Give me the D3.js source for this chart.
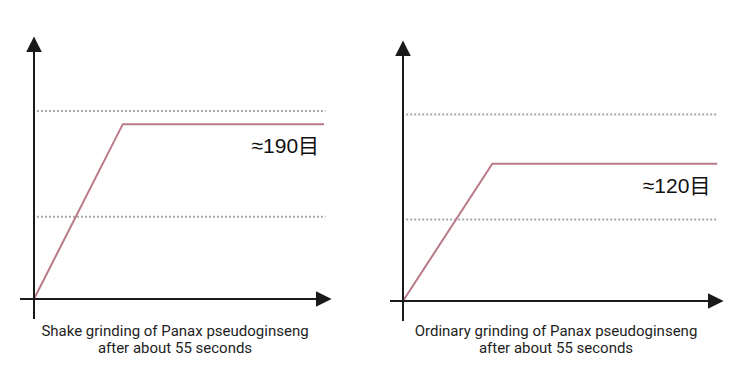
<!DOCTYPE html>
<html lang="en">
<head>
  <meta charset="UTF-8">
  <title>Panax pseudoginseng grinding</title>
  <script src="https://d3js.org/d3.v7.min.js"></script>
  <style>
    body {
      margin: 0;
      background: #fff;
    }

    svg {
      display: block;
    }

    .caption {
      font-family: Roboto, "Noto Sans", sans-serif;
      font-size: 15px;
      fill: #1e1e1e;
    }

    .mesh {
      font-family: "Liberation Sans", "Noto Sans CJK SC", sans-serif;
      font-size: 21px;
      fill: #111;
    }
  </style>
</head>
<body>
  <svg id="chart"></svg>
  <script>
    // Captions under each panel
    const captions = [
      ["Shake grinding of Panax pseudoginseng", "after about 55 seconds"],
      ["Ordinary grinding of Panax pseudoginseng", "after about 55 seconds"]
    ];

    // Schematic curve: time (0-100) vs fineness (0-100)
    const curveX = [
      [0, 30, 98],
      [0, 28, 98.5]
    ];
    const curveY = [
      [0, 67, 67],
      [0, 53, 53]
    ];

    // Dotted reference levels
    const gridLevels = [31.5, 72];

    const meshLabels = ["≈190目", "≈120目"];

    const width = 752;
    const height = 387;

    // Panel frames (origin and axis tips)
    const frames = [
      { x0: 34, x1: 330, y0: 299, y1: 38, xStart: 20, yEnd: 319 },
      { x0: 403, x1: 722, y0: 301, y1: 42, xStart: 390, yEnd: 321 }
    ];

    const svg = d3.select("#chart")
      .attr("width", width)
      .attr("height", height);

    const defs = svg.append("defs");
    defs.append("marker")
      .attr("id", "arrow")
      .attr("viewBox", "0 0 10 10")
      .attr("refX", 9)
      .attr("refY", 5)
      .attr("markerWidth", 8)
      .attr("markerHeight", 8)
      .attr("markerUnits", "strokeWidth")
      .attr("orient", "auto")
      .append("path")
      .attr("d", "M0,0 L10,5 L0,10 Z")
      .attr("fill", "#1a1a1a");

    frames.forEach((f, i) => {
      const x = d3.scaleLinear().domain([0, 100]).range([f.x0, f.x1]);
      const y = d3.scaleLinear().domain([0, 100]).range([f.y0, f.y1]);

      const g = svg.append("g");

      // dotted lines
      g.selectAll(".grid")
        .data(gridLevels)
        .enter()
        .append("line")
        .attr("x1", x(1))
        .attr("x2", x(98.5))
        .attr("y1", d => y(d))
        .attr("y2", d => y(d))
        .attr("stroke", "#a8a8a8")
        .attr("stroke-width", 2)
        .attr("stroke-dasharray", "2,2");

      // curve
      const pts = curveX[i].map((v, j) => [v, curveY[i][j]]);
      g.append("path")
        .datum(pts)
        .attr("fill", "none")
        .attr("stroke", "#b97a88")
        .attr("stroke-width", 2)
        .attr("d", d3.line().x(d => x(d[0])).y(d => y(d[1])));

      // axes
      g.append("line")
        .attr("x1", f.xStart)
        .attr("y1", y(0))
        .attr("x2", x(100))
        .attr("y2", y(0))
        .attr("stroke", "#1a1a1a")
        .attr("stroke-width", 2)
        .attr("marker-end", "url(#arrow)");

      g.append("line")
        .attr("x1", x(0))
        .attr("y1", f.yEnd)
        .attr("x2", x(0))
        .attr("y2", y(100))
        .attr("stroke", "#1a1a1a")
        .attr("stroke-width", 2)
        .attr("marker-end", "url(#arrow)");

      // mesh label
      g.append("text")
        .attr("class", "mesh")
        .attr("x", x(97) - 2)
        .attr("y", y(curveY[i][2]) + 29)
        .attr("text-anchor", "end")
        .text(meshLabels[i]);

      // caption
      const cx = i === 0 ? 175 : 556;
      g.selectAll(".caption")
        .data(captions[i])
        .enter()
        .append("text")
        .attr("class", "caption")
        .attr("x", cx)
        .attr("y", (d, k) => 336 + k * 17)
        .attr("text-anchor", "middle")
        .text(d => d);
    });
  </script>
</body>
</html>
